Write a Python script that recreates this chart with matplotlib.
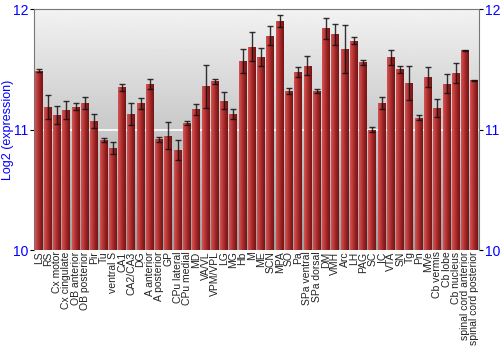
import matplotlib
matplotlib.use("Agg")
import matplotlib.pyplot as plt
import numpy as np

# Regions and their expression (log2) with error bars.
regions = [
    "LS", "RS", "Cx motor", "Cx cingulate", "OB anterior", "OB posterior",
    "Pir", "Tu", "ventral S", "CA1", "CA2/CA3", "DG", "A anterior",
    "A posterior", "GP", "CPu lateral", "CPu medial", "MD", "VA/VL",
    "VPM/VPL", "LG", "MG", "Hb", "M", "ME", "SCN", "MPA", "SO", "Pa",
    "SPa ventral", "SPa dorsal", "DM", "VMH", "Arc", "LH", "PAG", "SC", "IC",
    "VTA", "SN", "Tg", "Pn", "MVe", "Cb vermis", "Cb lobe", "Cb nucleus",
    "spinal cord anterior", "spinal cord posterior",
]
values = [
    11.49, 11.19, 11.12, 11.16, 11.19, 11.22,
    11.07, 10.91, 10.85, 11.35, 11.13, 11.22, 11.38,
    10.92, 10.95, 10.83, 11.055, 11.17, 11.36,
    11.40, 11.24, 11.13, 11.57, 11.69, 11.60, 11.78, 11.90, 11.32, 11.48,
    11.53, 11.32, 11.84, 11.79, 11.67, 11.74, 11.56, 11.00, 11.22,
    11.60, 11.50, 11.39, 11.10, 11.44, 11.18, 11.38, 11.47,
    11.66, 11.41,
]
errors = [
    0.01, 0.10, 0.075, 0.075, 0.03, 0.05,
    0.06, 0.017, 0.05, 0.03, 0.09, 0.045, 0.04,
    0.02, 0.11, 0.083, 0.02, 0.045, 0.18,
    0.02, 0.07, 0.045, 0.10, 0.12, 0.075, 0.08, 0.05, 0.025, 0.04,
    0.08, 0.015, 0.09, 0.09, 0.20, 0.025, 0.022, 0.02, 0.05,
    0.06, 0.028, 0.14, 0.018, 0.083, 0.075, 0.08, 0.08,
    0.003, 0.003,
]
y_ticks = [10, 11, 12]

plt.rcParams["font.family"] = ["Liberation Sans", "DejaVu Sans"]

fig = plt.figure(figsize=(5.0, 3.5), dpi=100)
ax = fig.add_axes([0.068, 0.2857, 0.89, 0.688])

x = np.arange(len(regions))

# Gray gradient background.
grad = np.linspace(0.62, 0.95, 256).reshape(-1, 1)
ax.imshow(grad, cmap="gray", vmin=0, vmax=1, aspect="auto", origin="lower",
          extent=(-0.5, len(regions) - 0.5, 10, 12), zorder=0)
ax.axhline(11, color="white", lw=1.2, zorder=1)

# Bars with a horizontal red gradient.
bars = ax.bar(x, np.array(values) - 10, bottom=10, width=0.86,
              color="#a83030", edgecolor="none", zorder=2)
red = np.array([[0.82, 0.33, 0.33], [0.74, 0.22, 0.22], [0.58, 0.13, 0.13],
                [0.46, 0.08, 0.08]])
pos = np.linspace(0, 3, 64)
strip = np.stack([np.interp(pos, np.arange(4), red[:, c]) for c in range(3)],
                 axis=-1).reshape(1, -1, 3)
for b in bars:
    x0, w, h = b.get_x(), b.get_width(), b.get_height()
    im = ax.imshow(strip, aspect="auto", extent=(x0, x0 + w, 10, 10 + h),
                   zorder=3)
    im.set_clip_path(b)
ax.set_xlim(-0.5, len(regions) - 0.5)
ax.set_ylim(10, 12)

ax.errorbar(x, values, yerr=errors, fmt="none", ecolor="#111111",
            elinewidth=1.0, capsize=2.2, capthick=1.0, alpha=0.85, zorder=4)

ax.set_xticks(x)
ax.set_xticklabels(regions, rotation=90, fontsize=7.5, color="#222222")
ax.tick_params(axis="x", length=0, pad=1)
ax.set_yticks(y_ticks)
ax.tick_params(axis="y", labelsize=10, labelcolor="blue", length=3,
               pad=1, right=True, labelright=True)
ax.set_ylabel("Log2 (expression)", color="blue", fontsize=9, labelpad=-1)

for side in ("left", "right", "top"):
    ax.spines[side].set_color("#777777")
ax.spines["bottom"].set_visible(False)

fig.savefig("out.png", dpi=100)
